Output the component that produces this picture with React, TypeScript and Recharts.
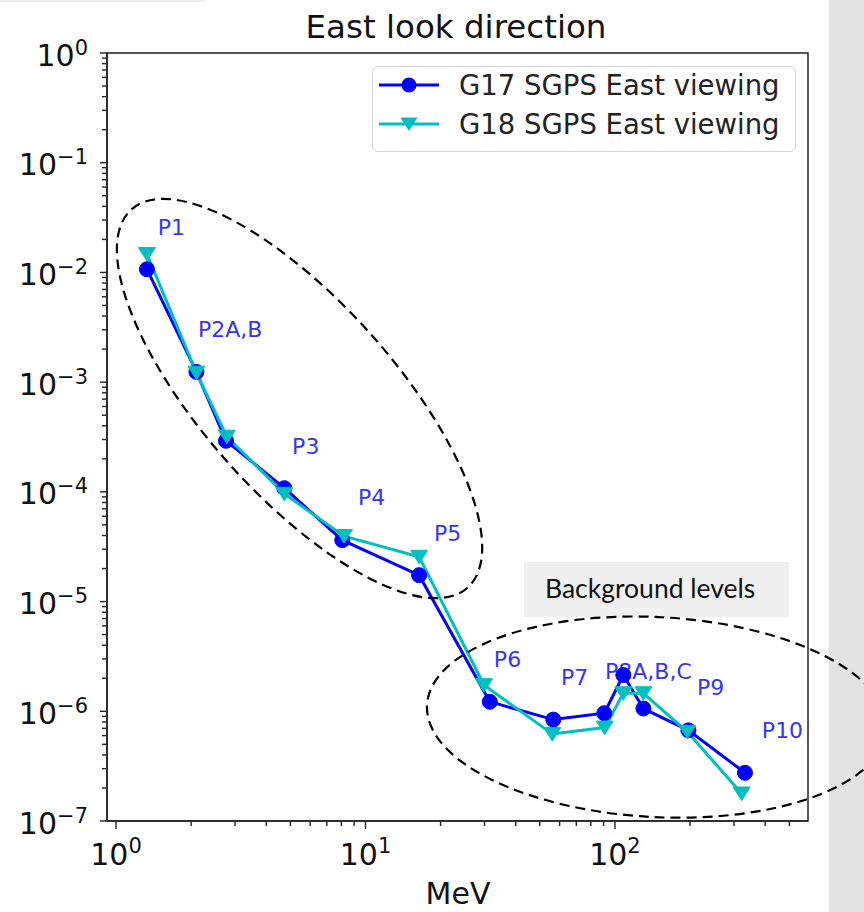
import React from 'react';
import {
  LineChart, Line, XAxis, YAxis, ReferenceArea, ReferenceDot, Legend, Customized,
} from 'recharts';

// ---------- data ----------
const seriesNames = ['G17 SGPS East viewing', 'G18 SGPS East viewing'];
const seriesColors = ['#0000ff', '#00bfbf'];

const g17Energy = [1.33, 2.1, 2.76, 4.73, 8.07, 16.4, 31.5, 56.6, 90.6, 108, 130, 197, 332];
const g17Flux = [1.07e-2, 1.24e-3, 2.92e-4, 1.08e-4, 3.63e-5, 1.74e-5, 1.22e-6, 8.4e-7, 9.6e-7, 2.14e-6, 1.06e-6, 6.7e-7, 2.75e-7];

const g18Energy = [1.33, 2.1, 2.78, 4.73, 8.2, 16.4, 29.9, 56.1, 91.0, 108, 130, 195, 322];
const g18Flux = [1.47e-2, 1.22e-3, 3.18e-4, 9.6e-5, 3.95e-5, 2.56e-5, 1.73e-6, 6.2e-7, 7.1e-7, 1.46e-6, 1.46e-6, 6.5e-7, 1.78e-7];

const peakLabels = ['P1', 'P2A,B', 'P3', 'P4', 'P5', 'P6', 'P7', 'P8A,B,C', 'P9', 'P10'];
const peakLabelEnergy = [1.47, 2.13, 5.08, 9.33, 18.8, 32.7, 60.8, 91.2, 213, 388];
const peakLabelFlux = [2.19e-2, 2.58e-3, 2.21e-4, 7.58e-5, 3.56e-5, 2.53e-6, 1.73e-6, 1.97e-6, 1.41e-6, 5.7e-7];

// ellipse annotation centres (data coords)
const ellipseEnergy = [5.44, 147];
const ellipseFlux = [7.09e-4, 8.85e-7];

const xMajorExponents = [0, 1, 2];
const yMajorExponents = [-7, -6, -5, -4, -3, -2, -1, 0];
const minorMultipliers = [2, 3, 4, 5, 6, 7, 8, 9];
const xDomain = [0.92, 594];
const yDomain = [1e-7, 1];

const titleText = 'East look direction';
const xAxisTitle = 'MeV';
const boxText = 'Background levels';

// ---------- derived ----------
const g17Data = g17Energy.map((e, i) => ({ e, f: g17Flux[i] }));
const g18Data = g18Energy.map((e, i) => ({ e, f: g18Flux[i] }));

const buildTicks = (exps: number[], lo: number, hi: number) => {
  const out: number[] = [];
  exps.forEach((k) => {
    const base = Math.pow(10, k);
    out.push(base);
    minorMultipliers.forEach((m) => {
      const v = m * base;
      if (v >= lo && v <= hi) out.push(v);
    });
  });
  return out.filter((v) => v >= lo && v <= hi);
};
const xTicks = buildTicks(xMajorExponents, xDomain[0], xDomain[1]);
const yTicks = buildTicks(yMajorExponents, yDomain[0], yDomain[1]);

const isMajor = (v: number) => Math.abs(Math.log10(v) - Math.round(Math.log10(v))) < 1e-6;
const expLabel = (v: number) => {
  const e = Math.round(Math.log10(v));
  return e < 0 ? '\u2212' + String(-e) : String(e);
};

const FONT = 'DejaVu Sans';
const AXIS = '#222';

const XTick = (props: any) => {
  const { x, y, payload } = props;
  const v = payload.value;
  const major = isMajor(v);
  return (
    <g>
      <line x1={x} x2={x} y1={y} y2={y + (major ? 8 : 5)} stroke={AXIS} strokeWidth={1.4} />
      {major && (
        <text x={x} y={y + 44} textAnchor="middle" fontFamily={FONT} fontSize={30} fill="#111">
          <tspan>10</tspan>
          <tspan dy={-12} fontSize={21}>{expLabel(v)}</tspan>
        </text>
      )}
    </g>
  );
};

const YTick = (props: any) => {
  const { x, y, payload } = props;
  const v = payload.value;
  const major = isMajor(v);
  return (
    <g>
      <line x1={x} x2={x - (major ? 7 : 5)} y1={y} y2={y} stroke={AXIS} strokeWidth={1.4} />
      {major && (
        <text x={x - 19} y={y + 12.5} textAnchor="end" fontFamily={FONT} fontSize={30} fill="#111">
          <tspan>10</tspan>
          <tspan dy={-11} fontSize={21}>{expLabel(v)}</tspan>
        </text>
      )}
    </g>
  );
};

const circleDot = (color: string) => (p: any) => (
  <circle key={`c-${p.index}`} cx={p.cx} cy={p.cy} r={7.5} fill={color} stroke={color} strokeWidth={1} />
);
const triDot = (color: string) => (p: any) => (
  <path
    key={`t-${p.index}`}
    d={`M${p.cx - 8.5},${p.cy - 6.5} L${p.cx + 8.5},${p.cy - 6.5} L${p.cx},${p.cy + 7} Z`}
    fill={color}
    stroke={color}
    strokeWidth={1}
  />
);

const LegendBox = () => (
  <div
    style={{
      width: 424, height: 86, boxSizing: 'border-box', border: '1.5px solid #d2d2d2',
      borderRadius: 6, background: 'rgba(255,255,255,0.9)',
    }}
  >
    <svg width={422} height={84} style={{ display: 'block' }}>
      {seriesNames.map((name, i) => {
        const cy = i === 0 ? 18 : 57;
        return (
          <g key={name}>
            <line x1={6} x2={66} y1={cy} y2={cy} stroke={seriesColors[i]} strokeWidth={3} />
            {i === 0 ? (
              <circle cx={36} cy={cy} r={7.5} fill={seriesColors[i]} />
            ) : (
              <path d={`M${36 - 8.5},${cy - 6.5} L${36 + 8.5},${cy - 6.5} L36,${cy + 7} Z`} fill={seriesColors[i]} />
            )}
            <text x={86} y={cy + 10} fontFamily={FONT} fontSize={27.5} fill="#222">{name}</text>
          </g>
        );
      })}
    </svg>
  </div>
);

const Decorations = () => (
  <g>
    <text x={456} y={38} textAnchor="middle" fontFamily={FONT} fontSize={32.5} fill="#111">{titleText}</text>
    <text x={458} y={904} textAnchor="middle" fontFamily={FONT} fontSize={30} fill="#111">{xAxisTitle}</text>
    <rect x={524} y={562} width={265} height={55} fill="#f0f0f0" />
    <text x={545} y={598} fontFamily="Lato, 'Open Sans', sans-serif" fontSize={26.5} fill="#111">{boxText}</text>
  </g>
);

const ellipseShape = (rx: number, ry: number, angle: number) => (p: any) => (
  <ellipse
    cx={p.cx}
    cy={p.cy}
    rx={rx}
    ry={ry}
    transform={`rotate(${angle} ${p.cx} ${p.cy})`}
    fill="none"
    stroke="#000"
    strokeWidth={2.2}
    strokeDasharray="10 6"
  />
);
const ellipseSizes = [
  { rx: 253, ry: 96, angle: 48.4 },
  { rx: 230, ry: 100, angle: 3 },
];

const labelShape = (text: string) => (p: any) => (
  <text x={p.cx} y={p.cy} fontFamily={FONT} fontSize={22} fill="#3535f5">{text}</text>
);

export default function App() {
  return (
    <div style={{ position: 'absolute', left: 0, top: 0, width: 864, height: 912, background: '#fff', overflow: 'hidden' }}>
      <div style={{ position: 'absolute', left: 829, top: 0, width: 35, height: 912, background: '#e3e3e3' }} />
      <div style={{ position: 'absolute', left: 0, top: 0, width: 205, height: 2, background: '#ececec' }} />
      <div style={{ position: 'absolute', left: 0, top: 0 }}>
        <LineChart width={864} height={912} margin={{ top: 53, right: 56, left: 0, bottom: 0 }}>
          <Customized component={Decorations} />
          <XAxis
            dataKey="e"
            type="number"
            scale="log"
            domain={xDomain}
            allowDataOverflow
            ticks={xTicks}
            interval={0}
            tickSize={0}
            tickMargin={0}
            tickLine={false}
            tick={<XTick />}
            height={91}
            axisLine={{ stroke: AXIS, strokeWidth: 1.5 }}
          />
          <YAxis
            dataKey="f"
            type="number"
            scale="log"
            domain={yDomain}
            allowDataOverflow
            ticks={yTicks}
            interval={0}
            tickSize={0}
            tickMargin={0}
            tickLine={false}
            tick={<YTick />}
            width={107}
            axisLine={{ stroke: AXIS, strokeWidth: 1.5 }}
          />
          <ReferenceArea
            x1={xDomain[0]}
            x2={xDomain[1]}
            y1={yDomain[0]}
            y2={yDomain[1]}
            fill="none"
            fillOpacity={0}
            stroke={AXIS}
            strokeWidth={1.5}
          />
          {peakLabels.map((t, i) => (
            <ReferenceDot key={t} x={peakLabelEnergy[i]} y={peakLabelFlux[i]} r={0} shape={labelShape(t)} />
          ))}
          <Line
            data={g17Data}
            dataKey="f"
            name={seriesNames[0]}
            stroke={seriesColors[0]}
            strokeWidth={3}
            dot={circleDot(seriesColors[0])}
            activeDot={false}
            isAnimationActive={false}
          />
          <Line
            data={g18Data}
            dataKey="f"
            name={seriesNames[1]}
            stroke={seriesColors[1]}
            strokeWidth={3}
            dot={triDot(seriesColors[1])}
            activeDot={false}
            isAnimationActive={false}
          />
          {ellipseSizes.map((s, i) => (
            <ReferenceDot
              key={`ell-${i}`}
              x={ellipseEnergy[i]}
              y={ellipseFlux[i]}
              r={0}
              shape={ellipseShape(s.rx, s.ry, s.angle)}
            />
          ))}
          <Legend
            layout="vertical"
            align="center"
            verticalAlign="middle"
            content={<LegendBox />}
            wrapperStyle={{ position: 'absolute', left: 372, top: 66, width: 424, height: 86 }}
          />
        </LineChart>
      </div>
    </div>
  );
}
